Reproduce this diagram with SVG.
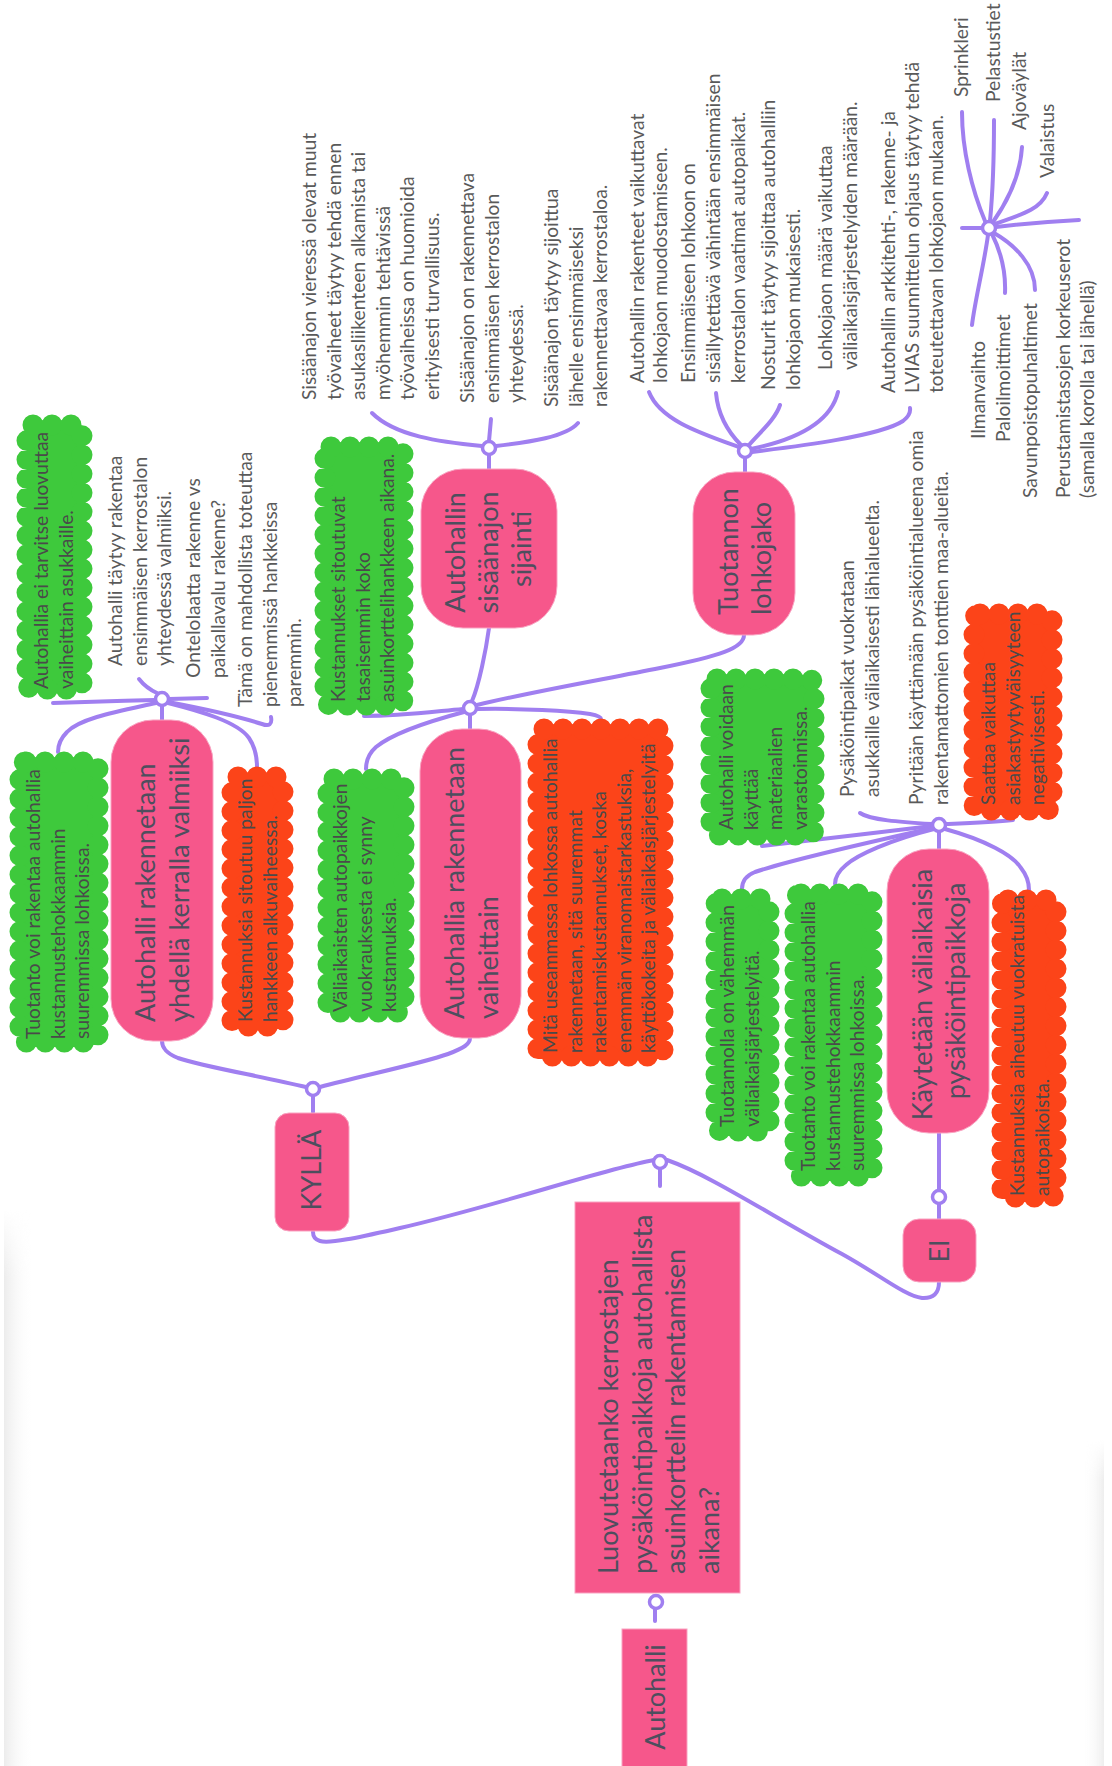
<svg xmlns="http://www.w3.org/2000/svg" width="1112" height="1766" viewBox="0 0 1112 1766">
  <defs>
    <style>
      .ln { fill: none; stroke: #a07ff0; stroke-width: 4; stroke-linecap: round; }
      .jn { fill: #ffffff; stroke: #a07ff0; stroke-width: 3.5; }
      .pk { fill: #f6578b; stroke: #f9a3c1; stroke-width: 1; }
      .cg { fill: #3ec93c; stroke: #3ec93c; stroke-width: 21; stroke-dasharray: 0 19; stroke-linecap: round; }
      .cr { fill: #fc4419; stroke: #fc4419; stroke-width: 21; stroke-dasharray: 0 19; stroke-linecap: round; }
      .n { font-family: Lato, "Open Sans", "Liberation Sans", sans-serif; font-size: 27px; fill: #4e4e5e; }
      .c { font-family: Lato, "Open Sans", "Liberation Sans", sans-serif; font-size: 19.3px; fill: #4a4a4a; }
      .p { font-family: Lato, "Open Sans", "Liberation Sans", sans-serif; font-size: 19.3px; fill: #5a5a5a; }
    </style>
    <linearGradient id="shadeL" x1="0" y1="0" x2="1" y2="0">
      <stop offset="0" stop-color="#ececec"/>
      <stop offset="1" stop-color="#ffffff" stop-opacity="0"/>
    </linearGradient>
    <linearGradient id="shadeR" x1="1" y1="0" x2="0" y2="0">
      <stop offset="0" stop-color="#eeeeee"/>
      <stop offset="1" stop-color="#ffffff" stop-opacity="0"/>
    </linearGradient>
    <linearGradient id="fadeTop" x1="0" y1="0" x2="0" y2="1">
      <stop offset="0" stop-color="#000"/>
      <stop offset="0.12" stop-color="#fff"/>
      <stop offset="1" stop-color="#fff"/>
    </linearGradient>
    <mask id="fadeMask" maskContentUnits="objectBoundingBox">
      <rect x="0" y="0" width="1" height="1" fill="url(#fadeTop)"/>
    </mask>
  </defs>

  <rect width="1112" height="1766" fill="#ffffff"/>

  <!-- faint page edges -->
  <rect x="4" y="1210" width="30" height="556" fill="url(#shadeL)" mask="url(#fadeMask)"/>
  <rect x="1082" y="1440" width="22" height="326" fill="url(#shadeR)" mask="url(#fadeMask)"/>

  <!-- connectors -->
  <g id="connectors">
    <path class="ln" d="M655,1621 L655,1609"/>
    <path class="ln" d="M660,1186 L660,1169"/>
    <path class="ln" d="M654,1160 C600,1170 500,1205 400,1228 C360,1237 330,1244 320,1241 Q313,1239 313,1232"/>
    <path class="ln" d="M667,1160 C710,1175 770,1215 842,1254 C880,1275 905,1296 922,1298 Q939,1299 939,1282"/>

    <path class="ln" d="M313,1112 L313,1096"/>
    <path class="ln" d="M306,1087 C260,1076 200,1066 178,1058 C166,1053 162,1048 162,1041"/>
    <path class="ln" d="M320,1087 C360,1076 420,1064 448,1054 C464,1048 470,1044 470,1038"/>

    <path class="ln" d="M162,720 L162,706"/>
    <path class="ln" d="M155,700 C120,701 80,702 53,703"/>
    <path class="ln" d="M157,693 Q146,688 139,679"/>
    <path class="ln" d="M169,699 L207,698"/>
    <path class="ln" d="M168,702 C200,708 240,717 262,724 Q273,728 271,717"/>
    <path class="ln" d="M156,703 C120,711 80,718 67,732 Q58,741 58,752"/>
    <path class="ln" d="M168,703 C200,711 238,722 249,738 Q257,750 257,767"/>

    <path class="ln" d="M470,729 L470,715"/>
    <path class="ln" d="M472,701 C479,685 486,650 489,628"/>
    <path class="ln" d="M477,705 C530,692 600,680 660,668 C720,656 744,648 744,635"/>
    <path class="ln" d="M463,709 C430,712 400,716 364,716"/>
    <path class="ln" d="M464,712 C430,721 392,734 376,747 Q366,756 366,769"/>
    <path class="ln" d="M477,709 C520,708 570,711 590,714 Q601,716 601,719"/>

    <path class="ln" d="M489,469 L489,455"/>
    <path class="ln" d="M482,446 C440,442 395,436 372,413"/>
    <path class="ln" d="M489,441 L491,419"/>
    <path class="ln" d="M496,446 C530,442 566,437 578,423"/>

    <path class="ln" d="M745,472 L745,458"/>
    <path class="ln" d="M739,447 C700,433 660,420 649,392"/>
    <path class="ln" d="M741,445 C728,432 718,415 716,393"/>
    <path class="ln" d="M749,445 C760,432 775,420 780,405"/>
    <path class="ln" d="M751,449 C790,441 830,425 838,392"/>
    <path class="ln" d="M752,452 C800,446 880,436 903,421 Q911,415 910,408"/>

    <path class="ln" d="M982,228 L962,228"/>
    <path class="ln" d="M996,227 C1030,223 1060,221 1079,220"/>
    <path class="ln" d="M985,221 C972,190 962,150 962,112"/>
    <path class="ln" d="M990,221 C993,190 994,150 994,120"/>
    <path class="ln" d="M993,222 C1005,205 1020,180 1022,147"/>
    <path class="ln" d="M995,224 C1020,215 1040,210 1047,193"/>
    <path class="ln" d="M988,235 C984,265 975,300 972,325"/>
    <path class="ln" d="M992,234 C1000,250 1006,270 1005,293"/>
    <path class="ln" d="M994,233 C1015,245 1035,265 1035,290"/>

    <path class="ln" d="M939,849 L939,832"/>
    <path class="ln" d="M932,824 C900,822 870,820 860,813"/>
    <path class="ln" d="M946,824 C970,823 995,822 1013,820"/>
    <path class="ln" d="M932,826 C880,832 800,842 762,846"/>
    <path class="ln" d="M933,828 C870,842 790,860 755,872 Q742,877 742,889"/>
    <path class="ln" d="M934,829 C890,840 857,855 846,865 Q835,874 835,884"/>
    <path class="ln" d="M945,829 C985,840 1013,855 1021,868 Q1029,878 1029,890"/>
    <path class="ln" d="M939,1133 L939,1190"/>
    <path class="ln" d="M939,1204 L939,1219"/>

    <circle class="jn" cx="656" cy="1602" r="6.5"/>
    <circle class="jn" cx="660" cy="1162" r="6.5"/>
    <circle class="jn" cx="313" cy="1089" r="6.5"/>
    <circle class="jn" cx="162" cy="699" r="6.5"/>
    <circle class="jn" cx="470" cy="708" r="6.5"/>
    <circle class="jn" cx="489" cy="448" r="6.5"/>
    <circle class="jn" cx="745" cy="451" r="6.5"/>
    <circle class="jn" cx="989" cy="228" r="6.5"/>
    <circle class="jn" cx="939" cy="825" r="6.5"/>
    <circle class="jn" cx="939" cy="1197" r="6.5"/>
  </g>

  <!-- main topic -->
  <g id="n-autohalli">
    <rect class="pk" x="622" y="1629" width="65" height="150"/>
    <text class="n" text-anchor="middle" transform="translate(665,1697) rotate(-90)">Autohalli</text>
  </g>

  <g id="n-kysymys">
    <rect class="pk" x="575" y="1202" width="165" height="391"/>
    <text class="n" transform="translate(618,1574) rotate(-90)">
      <tspan x="0" y="0">Luovutetaanko kerrostajen</tspan>
      <tspan x="0" y="33.5">pysäköintipaikkoja autohallista</tspan>
      <tspan x="0" y="67">asuinkorttelin rakentamisen</tspan>
      <tspan x="0" y="100.5">aikana?</tspan>
    </text>
  </g>

  <g id="n-kylla">
    <rect class="pk" x="275" y="1113" width="74" height="118" rx="14"/>
    <text class="n" text-anchor="middle" transform="translate(321,1170) rotate(-90)">KYLLÄ</text>
  </g>

  <g id="n-ei">
    <rect class="pk" x="903" y="1219" width="73" height="63" rx="16"/>
    <text class="n" text-anchor="middle" transform="translate(949,1251) rotate(-90)">EI</text>
  </g>

  <!-- KYLLÄ branch -->
  <g id="n-kerralla">
    <rect class="pk" x="111" y="720" width="102" height="321" rx="42"/>
    <text class="n" transform="translate(155,1022) rotate(-90)">
      <tspan x="0" y="0">Autohalli rakennetaan</tspan>
      <tspan x="0" y="34">yhdellä kerralla valmiiksi</tspan>
    </text>
  </g>

  <g id="n-ei-luovuteta">
    <rect class="cg" x="27" y="425" width="55" height="264" rx="6"/>
    <text class="c" transform="translate(48,689) rotate(-90)">
      <tspan x="0" y="0">Autohallia ei tarvitse luovuttaa</tspan>
      <tspan x="0" y="24.5">vaiheittain asukkaille.</tspan>
    </text>
  </g>

  <g id="n-tuotanto-1">
    <rect class="cg" x="20" y="762" width="78" height="280" rx="6"/>
    <text class="c" transform="translate(40,1039) rotate(-90)">
      <tspan x="0" y="0">Tuotanto voi rakentaa autohallia</tspan>
      <tspan x="0" y="24.5">kustannustehokkaammin</tspan>
      <tspan x="0" y="49">suuremmissa lohkoissa.</tspan>
    </text>
  </g>

  <g id="n-kustannus-alku">
    <rect class="cr" x="232" y="777" width="51" height="249" rx="6"/>
    <text class="c" transform="translate(252,1022) rotate(-90)">
      <tspan x="0" y="0">Kustannuksia sitoutuu paljon</tspan>
      <tspan x="0" y="24.5">hankkeen alkuvaiheessa.</tspan>
    </text>
  </g>

  <g id="n-ensimmainen">
    <text class="p" transform="translate(122,666) rotate(-90)">
      <tspan x="0" y="0">Autohalli täytyy rakentaa</tspan>
      <tspan x="0" y="24.5">ensimmäisen kerrostalon</tspan>
      <tspan x="0" y="49">yhteydessä valmiiksi.</tspan>
    </text>
  </g>

  <g id="n-ontelolaatta">
    <text class="p" transform="translate(200,678) rotate(-90)">
      <tspan x="0" y="0">Ontelolaatta rakenne vs</tspan>
      <tspan x="0" y="24.5">paikallavalu rakenne?</tspan>
    </text>
  </g>

  <g id="n-pienemmat">
    <text class="p" transform="translate(252,707) rotate(-90)">
      <tspan x="0" y="0">Tämä on mahdollista toteuttaa</tspan>
      <tspan x="0" y="24.5">pienemmissä hankkeissa</tspan>
      <tspan x="0" y="49">paremmin.</tspan>
    </text>
  </g>

  <g id="n-vaiheittain">
    <rect class="pk" x="420" y="729" width="101" height="309" rx="42"/>
    <text class="n" transform="translate(464,1019) rotate(-90)">
      <tspan x="0" y="0">Autohallia rakennetaan</tspan>
      <tspan x="0" y="34">vaiheittain</tspan>
    </text>
  </g>

  <g id="n-tasaisemmin">
    <rect class="cg" x="325" y="447" width="78" height="258" rx="6"/>
    <text class="c" transform="translate(345,702) rotate(-90)">
      <tspan x="0" y="0">Kustannukset sitoutuvat</tspan>
      <tspan x="0" y="24.5">tasaisemmin koko</tspan>
      <tspan x="0" y="49">asuinkorttelihankkeen aikana.</tspan>
    </text>
  </g>

  <g id="n-vuokraus">
    <rect class="cg" x="328" y="779" width="76" height="233" rx="6"/>
    <text class="c" transform="translate(347,1012) rotate(-90)">
      <tspan x="0" y="0">Väliaikaisten autopaikkojen</tspan>
      <tspan x="0" y="24.5">vuokrauksesta ei synny</tspan>
      <tspan x="0" y="49">kustannuksia.</tspan>
    </text>
  </g>

  <g id="n-lohkomaara">
    <rect class="cr" x="538" y="729" width="125" height="327" rx="6"/>
    <text class="c" transform="translate(557,1053) rotate(-90)">
      <tspan x="0" y="0">Mitä useammassa lohkossa autohallia</tspan>
      <tspan x="0" y="24.5">rakennetaan, sitä suuremmat</tspan>
      <tspan x="0" y="49">rakentamiskustannukset, koska</tspan>
      <tspan x="0" y="73.5">enemmän viranomaistarkastuksia,</tspan>
      <tspan x="0" y="98">käyttökokeita ja väliaikaisjärjestelyitä</tspan>
    </text>
  </g>

  <g id="n-sisaanajo">
    <rect class="pk" x="421" y="469" width="136" height="159" rx="42"/>
    <text class="n" text-anchor="middle" transform="translate(465,549) rotate(-90)">
      <tspan x="0" y="0">Autohallin</tspan>
      <tspan x="0" y="33">sisäänajon</tspan>
      <tspan x="0" y="66">sijainti</tspan>
    </text>
  </g>

  <g id="n-tyovaiheet">
    <text class="p" transform="translate(316,400) rotate(-90)">
      <tspan x="0" y="0">Sisäänajon vieressä olevat muut</tspan>
      <tspan x="0" y="24.5">työvaiheet täytyy tehdä ennen</tspan>
      <tspan x="0" y="49">asukasliikenteen alkamista tai</tspan>
      <tspan x="0" y="73.5">myöhemmin tehtävissä</tspan>
      <tspan x="0" y="98">työvaiheissa on huomioida</tspan>
      <tspan x="0" y="122.5">erityisesti turvallisuus.</tspan>
    </text>
  </g>

  <g id="n-sisaanajo-ensin">
    <text class="p" transform="translate(474,403) rotate(-90)">
      <tspan x="0" y="0">Sisäänajon on rakennettava</tspan>
      <tspan x="0" y="24.5">ensimmäisen kerrostalon</tspan>
      <tspan x="0" y="49">yhteydessä.</tspan>
    </text>
  </g>

  <g id="n-sisaanajo-lahelle">
    <text class="p" transform="translate(558,407) rotate(-90)">
      <tspan x="0" y="0">Sisäänajon täytyy sijoittua</tspan>
      <tspan x="0" y="24.5">lähelle ensimmäiseksi</tspan>
      <tspan x="0" y="49">rakennettavaa kerrostaloa.</tspan>
    </text>
  </g>

  <g id="n-lohkojako">
    <rect class="pk" x="693" y="472" width="102" height="163" rx="42"/>
    <text class="n" transform="translate(738,615) rotate(-90)">
      <tspan x="0" y="0">Tuotannon</tspan>
      <tspan x="0" y="33">lohkojako</tspan>
    </text>
  </g>

  <g id="n-rakenteet">
    <text class="p" transform="translate(644,383) rotate(-90)">
      <tspan x="0" y="0">Autohallin rakenteet vaikuttavat</tspan>
      <tspan x="0" y="23">lohkojaon muodostamiseen.</tspan>
    </text>
  </g>

  <g id="n-ensimmainen-lohko">
    <text class="p" transform="translate(695,383) rotate(-90)">
      <tspan x="0" y="0">Ensimmäiseen lohkoon on</tspan>
      <tspan x="0" y="25">sisällytettävä vähintään ensimmäisen</tspan>
      <tspan x="0" y="50">kerrostalon vaatimat autopaikat.</tspan>
    </text>
  </g>

  <g id="n-nosturit">
    <text class="p" transform="translate(775,390) rotate(-90)">
      <tspan x="0" y="0">Nosturit täytyy sijoittaa autohalliin</tspan>
      <tspan x="0" y="24.5">lohkojaon mukaisesti.</tspan>
    </text>
  </g>

  <g id="n-lohkojaon-maara">
    <text class="p" transform="translate(832,370) rotate(-90)">
      <tspan x="0" y="0">Lohkojaon määrä vaikuttaa</tspan>
      <tspan x="0" y="24.5">väliaikaisjärjestelyiden määrään.</tspan>
    </text>
  </g>

  <g id="n-suunnittelu">
    <text class="p" transform="translate(895,393) rotate(-90)">
      <tspan x="0" y="0">Autohallin arkkitehti-, rakenne- ja</tspan>
      <tspan x="0" y="24">LVIAS suunnittelun ohjaus täytyy tehdä</tspan>
      <tspan x="0" y="48">toteutettavan lohkojaon mukaan.</tspan>
    </text>
  </g>

  <!-- technical systems -->
  <g id="n-sprinkleri"><text class="p" transform="translate(968,97) rotate(-90)">Sprinkleri</text></g>
  <g id="n-pelastustiet"><text class="p" transform="translate(1000,102) rotate(-90)">Pelastustiet</text></g>
  <g id="n-ajovaylat"><text class="p" transform="translate(1026,130) rotate(-90)">Ajoväylät</text></g>
  <g id="n-valaistus"><text class="p" transform="translate(1054,178) rotate(-90)">Valaistus</text></g>
  <g id="n-ilmanvaihto"><text class="p" transform="translate(985,439) rotate(-90)">Ilmanvaihto</text></g>
  <g id="n-paloilmoittimet"><text class="p" transform="translate(1010,442) rotate(-90)">Paloilmoittimet</text></g>
  <g id="n-savunpoisto"><text class="p" transform="translate(1037,498) rotate(-90)">Savunpoistopuhaltimet</text></g>
  <g id="n-korkeuserot">
    <text class="p" transform="translate(1070,498) rotate(-90)">
      <tspan x="0" y="0">Perustamistasojen korkeuserot</tspan>
      <tspan x="0" y="24">(samalla korolla tai lähellä)</tspan>
    </text>
  </g>

  <!-- EI branch -->
  <g id="n-valiaikaiset">
    <rect class="pk" x="887" y="849" width="102" height="284" rx="42"/>
    <text class="n" text-anchor="middle" transform="translate(932,991) rotate(-90)">
      <tspan x="0" y="0">Käytetään väliaikaisia</tspan>
      <tspan x="0" y="33">pysäköintipaikkoja</tspan>
    </text>
  </g>

  <g id="n-vuokrataan">
    <text class="p" transform="translate(854,797) rotate(-90)">
      <tspan x="0" y="0">Pysäköintipaikat vuokrataan</tspan>
      <tspan x="0" y="24.5">asukkaille väliaikaisesti lähialueelta.</tspan>
    </text>
  </g>

  <g id="n-omat-tontit">
    <text class="p" transform="translate(923,805) rotate(-90)">
      <tspan x="0" y="0">Pyritään käyttämään pysäköintialueena omia</tspan>
      <tspan x="0" y="24.5">rakentamattomien tonttien maa-alueita.</tspan>
    </text>
  </g>

  <g id="n-tyytyvaisyys">
    <rect class="cr" x="974" y="614" width="78" height="196" rx="6"/>
    <text class="c" transform="translate(995,805) rotate(-90)">
      <tspan x="0" y="0">Saattaa vaikuttaa</tspan>
      <tspan x="0" y="24.5">asiakastyytyväisyyteen</tspan>
      <tspan x="0" y="49">negatiivisesti.</tspan>
    </text>
  </g>

  <g id="n-varastointi">
    <rect class="cg" x="711" y="679" width="103" height="156" rx="6"/>
    <text class="c" transform="translate(733,830) rotate(-90)">
      <tspan x="0" y="0">Autohalli voidaan</tspan>
      <tspan x="0" y="24.5">käyttää</tspan>
      <tspan x="0" y="49">materiaalien</tspan>
      <tspan x="0" y="73.5">varastoinnissa.</tspan>
    </text>
  </g>

  <g id="n-vahemman">
    <rect class="cg" x="716" y="899" width="53" height="232" rx="6"/>
    <text class="c" transform="translate(734,1127) rotate(-90)">
      <tspan x="0" y="0">Tuotannolla on vähemmän</tspan>
      <tspan x="0" y="24.5">väliaikaisjärjestelyitä.</tspan>
    </text>
  </g>

  <g id="n-tuotanto-2">
    <rect class="cg" x="795" y="894" width="77" height="282" rx="6"/>
    <text class="c" transform="translate(815,1171) rotate(-90)">
      <tspan x="0" y="0">Tuotanto voi rakentaa autohallia</tspan>
      <tspan x="0" y="24.5">kustannustehokkaammin</tspan>
      <tspan x="0" y="49">suuremmissa lohkoissa.</tspan>
    </text>
  </g>

  <g id="n-vuokrakulut">
    <rect class="cr" x="1002" y="900" width="54" height="297" rx="6"/>
    <text class="c" transform="translate(1024,1196) rotate(-90)">
      <tspan x="0" y="0">Kustannuksia aiheutuu vuokratuista</tspan>
      <tspan x="0" y="24.5">autopaikoista.</tspan>
    </text>
  </g>
</svg>
